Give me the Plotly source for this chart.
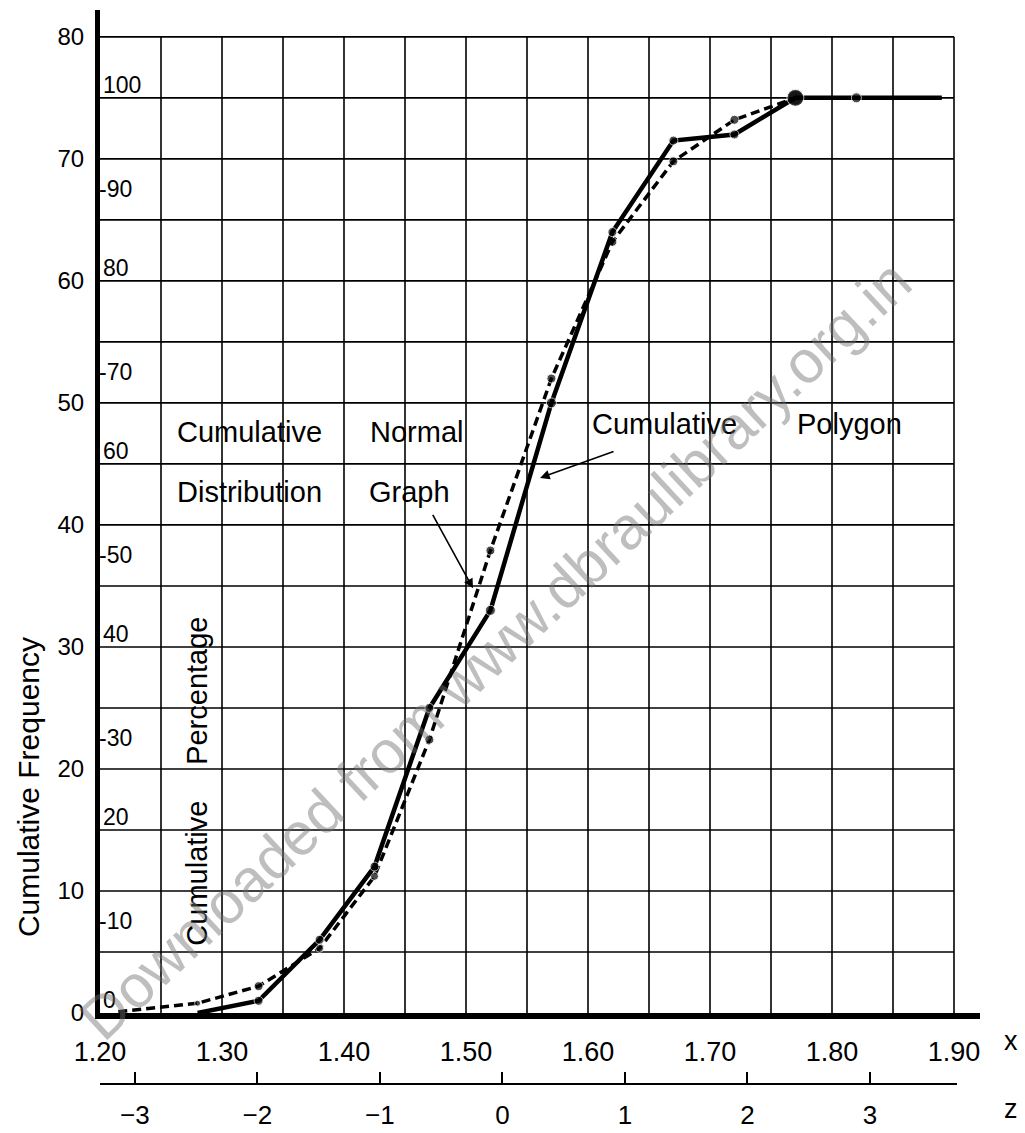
import plotly.graph_objects as go

# ---------------- data ----------------
class_x = [1.33, 1.38, 1.425, 1.47, 1.52, 1.57, 1.62, 1.67, 1.72, 1.77, 1.82]

polygon_x = [1.28] + class_x + [1.89]
polygon_cf = [0, 1, 6, 12, 25, 33, 50, 64, 71.5, 72, 75, 75, 75]
polygon_marker = [0, 9, 9, 9, 9, 10, 10, 9, 9, 9, 17, 10, 0]

normal_x = [1.215, 1.28] + class_x[:10]
normal_cf = [0.1, 0.8, 2.2, 5.3, 11.2, 22.4, 37.9, 52.0, 63.2, 69.8, 73.2, 75.0]
normal_marker = [0, 6, 9, 8, 8, 9, 9, 9, 9, 9, 9, 15]

y_ticks = [0, 10, 20, 30, 40, 50, 60, 70, 80]
x_ticks = [1.20, 1.30, 1.40, 1.50, 1.60, 1.70, 1.80, 1.90]
x_ticktext = ["1.20", "1.30", "1.40", "1.50", "1.60", "1.70", "1.80", "1.90"]
z_ticks = [-3, -2, -1, 0, 1, 2, 3]
pct_ticks = [0, 10, 20, 30, 40, 50, 60, 70, 80, 90, 100]
N_total = 75

FONT = "Liberation Sans, Arial, sans-serif"

fig = go.Figure()

# cumulative normal distribution graph (dashed)
fig.add_trace(go.Scatter(
    x=normal_x, y=normal_cf, mode="lines+markers",
    line=dict(color="black", width=3.5, dash="9px,5px"),
    marker=dict(color="black", size=normal_marker),
    showlegend=False, hoverinfo="skip"))

# cumulative polygon (solid)
fig.add_trace(go.Scatter(
    x=polygon_x, y=polygon_cf, mode="lines+markers",
    line=dict(color="black", width=4.5),
    marker=dict(color="black", size=polygon_marker),
    showlegend=False, hoverinfo="skip"))

# invisible trace so the z axis is drawn
fig.add_trace(go.Scatter(
    x=z_ticks, y=[0] * len(z_ticks), xaxis="x2", yaxis="y", mode="markers",
    marker=dict(opacity=0), showlegend=False, hoverinfo="skip"))

# ---------------- grid (graph paper) ----------------
shapes = []
gx = [round(1.25 + 0.05 * i, 2) for i in range(14)]
gy = [5 * i for i in range(1, 17)]
for v in gx:
    shapes.append(dict(type="line", xref="x", yref="y", x0=v, x1=v, y0=0, y1=80,
                       line=dict(color="black", width=1.6), layer="below"))
for v in gy:
    shapes.append(dict(type="line", xref="x", yref="y", x0=1.20, x1=1.90, y0=v, y1=v,
                       line=dict(color="black", width=1.6), layer="below"))
# z scale base line
Z_POS = 0.035
shapes.append(dict(type="line", xref="x2", yref="paper", x0=-3.285, x1=3.711,
                   y0=Z_POS, y1=Z_POS, line=dict(color="black", width=2)))

ann = []
def txt(x, y, s, size=29, xanchor="left", angle=0, xref="x", yref="y", yshift=0, xshift=0, color="black"):
    ann.append(dict(x=x, y=y, xref=xref, yref=yref, text=s, showarrow=False,
                    xanchor=xanchor, yanchor="middle", textangle=angle,
                    yshift=yshift, xshift=xshift,
                    font=dict(family=FONT, size=size, color=color)))

# percentage scale written inside the left axis
for p in pct_ticks:
    cf = p * N_total / 100
    if p % 20 == 0:
        txt(1.20, cf, str(p), size=23, yshift=13, xshift=1)
    else:
        txt(1.20, cf, "-" + str(p), size=23, xshift=-3)

# labels in the plot
txt(1.2615, 47.6, "Cumulative")
txt(1.4197, 47.6, "Normal")
txt(1.2615, 42.7, "Distribution")
txt(1.4190, 42.7, "Graph")
txt(1.6016, 48.3, "Cumulative")
txt(1.7700, 48.3, "Polygon")
txt(1.2795, 26.4, "Percentage", angle=-90, xanchor="center")
txt(1.2795, 11.5, "Cumulative", angle=-90, xanchor="center")

# y-axis title
txt(-0.082, 18.5, "Cumulative Frequency", size=30, angle=-90, xanchor="center", xref="paper")
# axis names
txt(1.035, (1123 - 1041) / 1113, "x", size=27, xanchor="center", xref="paper", yref="paper")
txt(1.035, (1123 - 1109) / 1113, "z", size=27, xanchor="center", xref="paper", yref="paper")

# arrows
ann.append(dict(x=1.5057, y=34.8, xref="x", yref="y", ax=-41, ay=-75, text="",
                showarrow=True, arrowhead=2, arrowsize=1.2, arrowwidth=1.6, arrowcolor="black"))
ann.append(dict(x=1.5607, y=43.85, xref="x", yref="y", ax=75, ay=-27, text="",
                showarrow=True, arrowhead=2, arrowsize=1.2, arrowwidth=1.6, arrowcolor="black"))

# watermark
ann.append(dict(x=1.5238, y=29.7, xref="x", yref="y", text="Downloaded from www.dbraulibrary.org.in",
                showarrow=False, textangle=-43, xanchor="center", yanchor="middle",
                font=dict(family=FONT, size=60, color="rgba(110,110,110,0.45)")))

fig.update_layout(
    width=1025, height=1133,
    margin=dict(l=100, r=45, t=10, b=10, autoexpand=False),
    paper_bgcolor="white", plot_bgcolor="white",
    font=dict(family=FONT, color="black"),
    shapes=shapes, annotations=ann,
    xaxis=dict(range=[1.20, 1.20 + 880 / 1220], showline=True, linewidth=6, linecolor="black",
               showgrid=False, zeroline=False, tickvals=x_ticks, ticktext=x_ticktext,
               ticks="", tickfont=dict(size=27), ticklabelstandoff=10, automargin=False),
    yaxis=dict(range=[0, 82.2], domain=[(1123 - 1013) / 1113, 1], showline=True, linewidth=5,
               linecolor="black", showgrid=False, zeroline=False, tickvals=y_ticks,
               ticks="", tickfont=dict(size=24), ticklabelstandoff=6, automargin=False),
    xaxis2=dict(overlaying="x", anchor="free", position=Z_POS, side="bottom",
                range=[-3.285, (980 - 502.4) / 122.5], showline=False, showgrid=False,
                zeroline=False, tickvals=z_ticks, ticks="inside", ticklen=12, tickwidth=2,
                tickcolor="black", tickfont=dict(size=26), ticklabelstandoff=13,
                automargin=False),
)

fig.write_html("out.html", config={"displayModeBar": False},
               post_script="document.body.style.margin='0px';document.body.style.overflow='hidden';")
